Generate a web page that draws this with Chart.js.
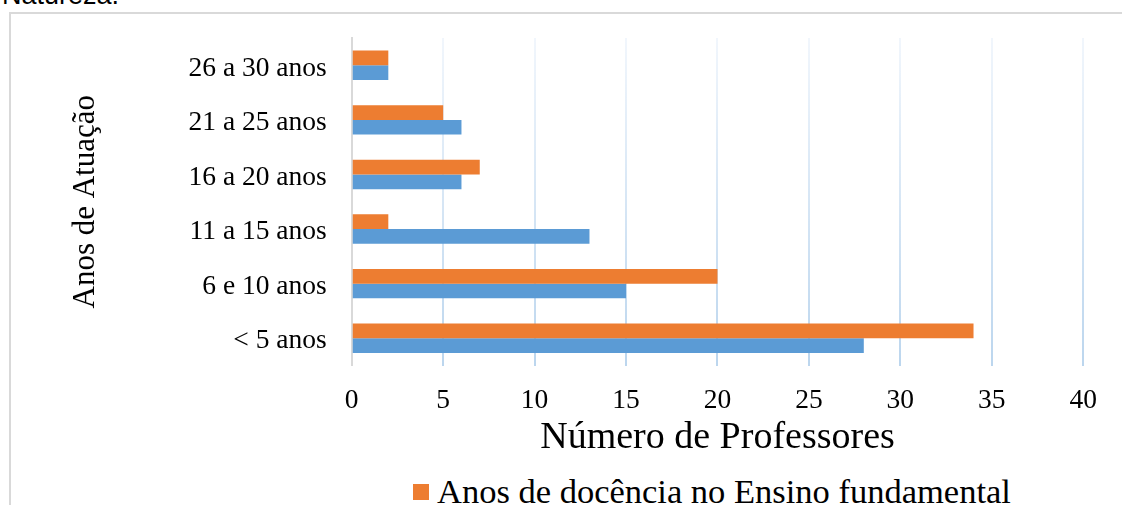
<!DOCTYPE html>
<html lang="pt">
<head>
<meta charset="utf-8">
<title>Anos de Atuação</title>
<script src="https://cdn.jsdelivr.net/npm/chart.js@4/dist/chart.umd.min.js"></script>
<style>
  html, body { margin: 0; padding: 0; background: #fff; width: 1122px; height: 505px; overflow: hidden; }
  #caption { position: absolute; left: 2px; top: -18px; font: 27px/26px "Liberation Sans", Arial, sans-serif; color: #000; white-space: nowrap; }
  #frame { position: absolute; left: 9px; top: 12px; width: 1300px; height: 600px; border-left: 2px solid #d9d9d9; border-top: 2px solid #d9d9d9; }
  #c { position: absolute; left: 0; top: 0; }
  #legend { position: absolute; left: 413px; top: 474px; font: 34.5px/34px "Liberation Serif", "Times New Roman", serif; color: #000; }
  #legend .item { display: flex; align-items: center; height: 34px; white-space: nowrap; }
  #legend .swatch { width: 16px; height: 16px; margin-right: 8px; margin-top: 2px; }
</style>
</head>
<body>
<div id="caption">Natureza.</div>
<div id="frame"><canvas id="c" width="1108" height="443"></canvas></div>
<div id="legend"></div>
<script>
// Faixas de anos de atuação, de cima para baixo
const categories = ['26 a 30 anos', '21 a 25 anos', '16 a 20 anos', '11 a 15 anos', '6 e 10 anos', '< 5 anos'];
// Número de professores em cada faixa
const ensinoFundamental = [2, 5, 7, 2, 20, 34];
const cienciasNatureza = [2, 6, 6, 13, 15, 28];
const seriesLabels = ['Anos de docência no Ensino fundamental', 'Anos de docência em Ciências da Natureza'];
const seriesColors = ['#ED7D31', '#5B9BD5'];
// Eixo horizontal
const xMin = 0, xMax = 40, xStep = 5;

const serif = '"Liberation Serif", "Times New Roman", serif';

function gridColor(ctx) {
  if (ctx.tick && ctx.tick.value === 0) return 'rgba(0,0,0,0)';
  const area = ctx.chart.chartArea;
  if (!area) return '#c9ddf0';
  const g = ctx.chart.ctx.createLinearGradient(0, area.top, 0, area.bottom);
  g.addColorStop(0, '#f1f6fc');
  g.addColorStop(1, '#bcd6ee');
  return g;
}

const chart = new Chart(document.getElementById('c'), {
  type: 'bar',
  data: {
    labels: categories,
    datasets: [
      { label: seriesLabels[0], data: ensinoFundamental, backgroundColor: seriesColors[0], borderWidth: 0 },
      { label: seriesLabels[1], data: cienciasNatureza, backgroundColor: seriesColors[1], borderWidth: 0 }
    ]
  },
  options: {
    indexAxis: 'y',
    responsive: false,
    animation: false,
    categoryPercentage: 0.54,
    barPercentage: 1.0,
    layout: { padding: { left: 59.5, top: 24, right: 0, bottom: 0 } },
    plugins: { legend: { display: false }, tooltip: { enabled: false } },
    scales: {
      x: {
        type: 'linear', min: xMin, max: xMax,
        ticks: { stepSize: xStep, padding: 22, color: '#000', font: { family: serif, size: 27.5, lineHeight: 1 } },
        grid: { color: gridColor, lineWidth: 2, drawTicks: false },
        border: { display: false },
        title: { display: true, text: 'Número de Professores', color: '#000',
                 font: { family: serif, size: 38, lineHeight: 1 }, padding: { top: -18, bottom: 0 } }
      },
      y: {
        type: 'category',
        grid: { display: true, drawOnChartArea: false, drawTicks: true, tickLength: 25, color: 'rgba(0,0,0,0)' },
        border: { display: true, color: '#d9d9d9', width: 2 },
        ticks: { padding: 0, labelOffset: 3, color: '#000', font: { family: serif, size: 27.5, lineHeight: 1 } },
        title: { display: true, text: 'Anos de Atuação', color: '#000',
                 font: { family: serif, size: 31, lineHeight: 1 }, padding: { top: 0, bottom: 87 } }
      }
    }
  }
});

// Legenda em HTML a partir das séries do gráfico
const legend = document.getElementById('legend');
chart.data.datasets.forEach(ds => {
  const item = document.createElement('div');
  item.className = 'item';
  const sw = document.createElement('span');
  sw.className = 'swatch';
  sw.style.background = ds.backgroundColor;
  const tx = document.createElement('span');
  tx.textContent = ds.label;
  item.appendChild(sw);
  item.appendChild(tx);
  legend.appendChild(item);
});
</script>
</body>
</html>
